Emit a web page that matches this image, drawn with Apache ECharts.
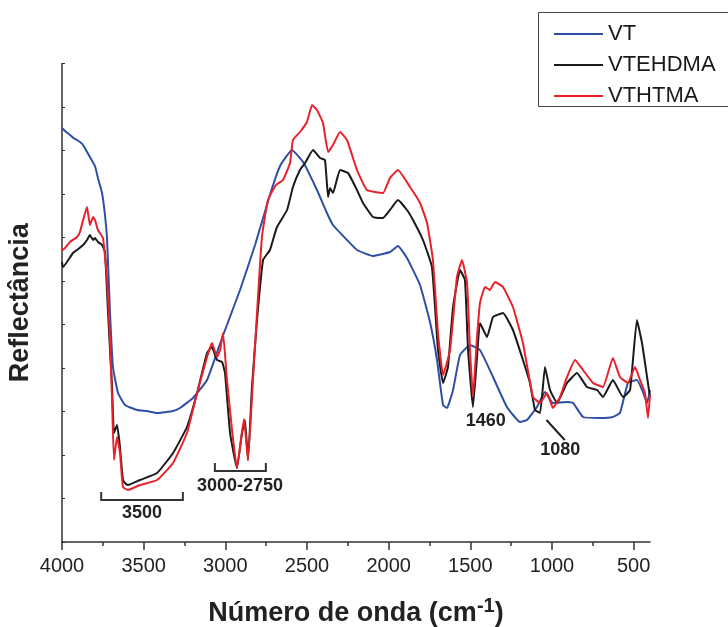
<!DOCTYPE html>
<html><head><meta charset="utf-8">
<script src="https://cdn.jsdelivr.net/npm/echarts@6/dist/echarts.min.js"></script>
<style>html,body{margin:0;padding:0;background:#fff}#c{width:728px;height:627px}</style>
</head><body><div id="c"></div>
<script>
// ---- data (wavenumber cm-1, reflectance in arbitrary units) ----
const xTicks = [4000, 3500, 3000, 2500, 2000, 1500, 1000, 500];
const xMinorTicks = [3750, 3250, 2750, 2250, 1750, 1250, 750];
const seriesNames = ['VT', 'VTEHDMA', 'VTHTMA'];
const seriesColors = ['#2f4fa6', '#1a1a1a', '#e8212b'];

const vt = [[4000,414],[3975,410],[3951,407],[3930,404],[3908,402],[3890,400],[3871,397],[3850,391],[3829,385],[3798,376],[3780,364],[3755,349],[3737,327],[3724,302],[3706,229],[3688,175],[3657,149],[3614,137],[3541,132],[3480,131],[3418,129],[3320,131],[3278,134],[3198,144],[3112,162],[3020,204],[2910,252],[2818,297],[2727,347],[2665,376],[2592,392],[2524,380],[2439,352],[2378,329],[2341,317],[2255,302],[2194,292],[2096,286],[1992,290],[1943,296],[1888,284],[1808,257],[1747,220],[1704,182],[1667,137],[1643,134],[1606,152],[1563,187],[1502,197],[1441,192],[1361,165],[1276,135],[1196,120],[1153,122],[1092,135],[1043,150],[994,139],[908,140],[871,139],[810,125],[706,124],[627,125],[584,129],[535,159],[480,162],[443,150],[418,139],[400,152]];

const vtehdma = [[4000,280],[3994,275],[3933,289],[3908,292],[3871,297],[3847,302],[3829,307],[3810,302],[3798,304],[3780,300],[3755,297],[3737,290],[3718,229],[3706,192],[3694,157],[3682,109],[3663,117],[3645,95],[3627,62],[3608,58],[3596,57],[3522,62],[3418,69],[3320,89],[3235,115],[3173,149],[3112,189],[3082,195],[3051,182],[3020,180],[3002,169],[2971,109],[2929,74],[2898,109],[2880,122],[2861,82],[2837,155],[2806,222],[2769,282],[2727,292],[2684,315],[2622,332],[2586,355],[2543,372],[2512,379],[2463,392],[2420,384],[2390,382],[2371,345],[2359,354],[2341,349],[2298,372],[2249,369],[2194,352],[2157,339],[2096,325],[2035,324],[1992,332],[1943,342],[1888,332],[1851,322],[1790,302],[1735,275],[1698,192],[1667,159],[1637,175],[1606,235],[1563,272],[1533,262],[1514,192],[1484,135],[1459,185],[1441,219],[1398,205],[1361,225],[1300,229],[1239,212],[1178,182],[1135,159],[1104,132],[1073,129],[1043,175],[1012,152],[969,139],[908,159],[847,169],[786,155],[724,152],[688,145],[627,162],[565,145],[522,152],[480,222],[449,199],[418,165],[400,145]];

const vthtma = [[4000,294],[3994,292],[3951,300],[3908,305],[3890,310],[3871,322],[3847,335],[3829,317],[3810,325],[3798,322],[3780,312],[3749,304],[3724,262],[3706,202],[3694,145],[3682,82],[3663,105],[3645,89],[3627,55],[3596,52],[3522,57],[3418,62],[3320,79],[3235,109],[3173,149],[3112,185],[3082,199],[3051,185],[3032,192],[3014,209],[2990,162],[2959,112],[2929,74],[2886,123],[2861,82],[2831,162],[2800,245],[2776,305],[2739,342],[2690,357],[2647,362],[2604,379],[2586,402],[2543,410],[2500,420],[2469,437],[2439,432],[2402,419],[2371,390],[2341,397],[2298,410],[2255,402],[2194,372],[2133,352],[2035,349],[1992,364],[1943,372],[1869,355],[1808,339],[1765,319],[1729,282],[1698,209],[1667,167],[1624,192],[1582,265],[1551,282],[1520,259],[1502,192],[1484,145],[1459,205],[1441,239],[1410,255],[1380,252],[1349,260],[1300,255],[1239,235],[1178,199],[1116,145],[1073,139],[1031,149],[994,134],[951,145],[908,165],[859,182],[810,172],[749,159],[688,155],[627,184],[584,165],[535,159],[492,175],[461,162],[431,149],[412,124],[400,147]];

// annotations in data coordinates
const bracketLabels = ['3500', '3000-2750'];
const bracketFrom = [3760, 3064];
const bracketTo = [3260, 2752];
const bracketBase = [42, 71];
const bracketTop = [50, 79];
const bracketTextPos = [[3510, 29], [2910, 56]];
const peakLabels = ['1460', '1080'];
const peakTextPos = [[1405, 121], [950, 92]];
const leaderFrom = [1034, 122];
const leaderTo = [922, 102];

const chart = echarts.init(document.getElementById('c'), null, {renderer: 'canvas'});
const FONT = 'Liberation Sans, Arial, sans-serif';
const dataList = [vt, vtehdma, vthtma];

chart.setOption({
  animation: false,
  backgroundColor: '#fff',
  grid: {left: 62, right: 78, top: 63.5, bottom: 85, containLabel: false, outerBoundsMode: 'none'},
  legend: {
    orient: 'vertical', left: 549, top: 18, itemWidth: 49, itemHeight: 2, itemGap: 9,
    icon: 'rect', data: seriesNames,
    textStyle: {fontSize: 22, fontFamily: FONT, color: '#1a1a1a', lineHeight: 22}
  },
  xAxis: [{
    type: 'value', inverse: true, min: 400, max: 4000,
    axisLine: {lineStyle: {color: '#333', width: 1.5}},
    axisTick: {customValues: xTicks, length: 8, lineStyle: {color: '#333', width: 1.5}},
    axisLabel: {customValues: xTicks, formatter: v => String(v), fontSize: 20, fontFamily: FONT, color: '#222', margin: 14},
    splitLine: {show: false},
    name: '{a|Número de onda (cm}{s|-1}{a|)}',
    nameLocation: 'middle', nameGap: 54,
    nameTextStyle: {
      rich: {
        a: {fontSize: 27, fontWeight: 'bold', fontFamily: FONT, color: '#222'},
        s: {fontSize: 20, fontWeight: 'bold', fontFamily: FONT, color: '#222', padding: [0, 0, 15, 0]}
      }
    }
  }, {
    type: 'value', inverse: true, min: 400, max: 4000, position: 'bottom',
    axisLine: {show: false},
    axisTick: {customValues: xMinorTicks, length: 4, lineStyle: {color: '#333', width: 1.5}},
    axisLabel: {show: false},
    splitLine: {show: false}
  }],
  yAxis: {
    type: 'value', min: 0, max: 478.5, interval: 43.5,
    axisLine: {show: true, lineStyle: {color: '#333', width: 1.5}},
    axisTick: {show: true, inside: true, length: 3, lineStyle: {color: '#333'}},
    axisLabel: {show: false},
    splitLine: {show: false},
    name: 'Reflectância', nameLocation: 'middle', nameGap: 28,
    nameTextStyle: {fontSize: 27, fontWeight: 'bold', fontFamily: FONT, color: '#222'}
  },
  series: seriesNames.map((n, i) => ({
    name: n, type: 'line', data: dataList[i], showSymbol: false, smooth: 0.12,
    color: seriesColors[i], lineStyle: {width: 2, color: seriesColors[i]}
  }))
});

const px = p => chart.convertToPixel({xAxisIndex: 0, yAxisIndex: 0}, p);
const g = [];
g.push({type: 'rect', shape: {x: 538.5, y: 12.5, width: 210, height: 94}, style: {fill: 'none', stroke: '#444', lineWidth: 1}, z: 100});
bracketLabels.forEach((t, i) => {
  const a = px([bracketFrom[i], bracketTop[i]]), b = px([bracketFrom[i], bracketBase[i]]);
  const c = px([bracketTo[i], bracketBase[i]]), d = px([bracketTo[i], bracketTop[i]]);
  g.push({type: 'polyline', shape: {points: [a, b, c, d]}, style: {stroke: '#333', lineWidth: 2, fill: null}, z: 100});
  const tp = px(bracketTextPos[i]);
  g.push({type: 'text', x: tp[0], y: tp[1], style: {text: t, font: 'bold 18px ' + FONT, fill: '#222', align: 'center', verticalAlign: 'middle'}, z: 100});
});
peakLabels.forEach((t, i) => {
  const tp = px(peakTextPos[i]);
  g.push({type: 'text', x: tp[0], y: tp[1], style: {text: t, font: 'bold 18px ' + FONT, fill: '#222', align: 'center', verticalAlign: 'middle'}, z: 100});
});
const l1 = px(leaderFrom), l2 = px(leaderTo);
g.push({type: 'line', shape: {x1: l1[0], y1: l1[1], x2: l2[0], y2: l2[1]}, style: {stroke: '#222', lineWidth: 2}, z: 100});
chart.setOption({graphic: g});
</script>
</body></html>
